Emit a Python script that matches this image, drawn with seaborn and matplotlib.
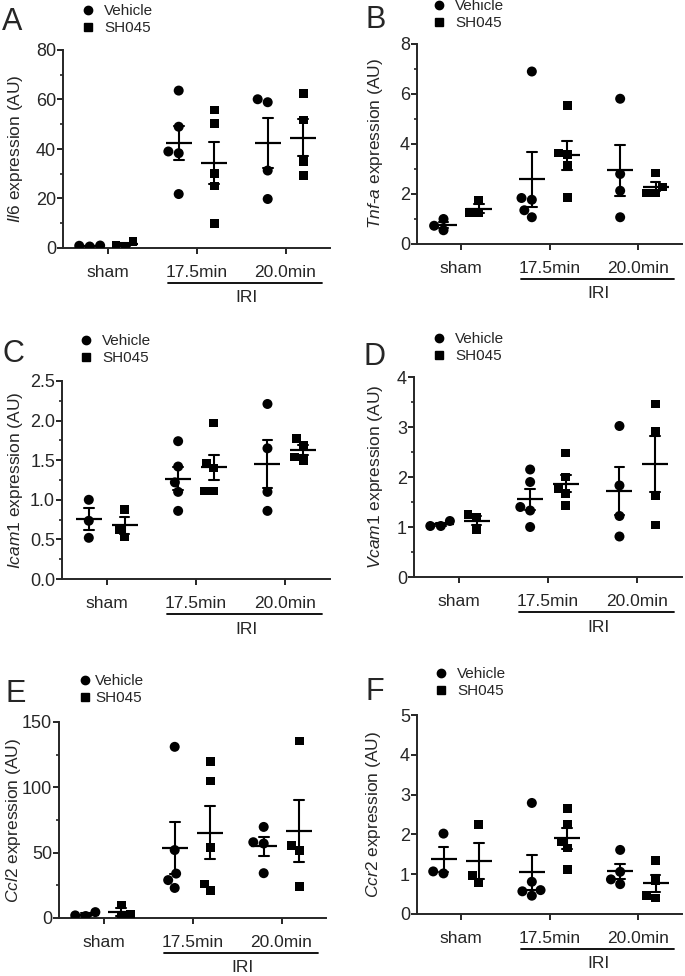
import numpy as np
import pandas as pd
import seaborn as sns
import matplotlib
matplotlib.use("Agg")
import matplotlib.pyplot as plt
from matplotlib.lines import Line2D
from matplotlib.ticker import MultipleLocator, FormatStrFormatter
import matplotlib.transforms as mtransforms

# ---------------- data ----------------
groups = ["sham", "17.5min", "20.0min"]
treatments = ["Vehicle", "SH045"]

il6_vehicle = [[0.6, 0.9, 1.0], [63.6, 49.0, 39.0, 38.3, 21.8], [60.1, 58.9, 31.3, 19.8]]
il6_sh045 = [[0.8, 2.7, 0.9], [55.8, 50.4, 30.0, 25.1, 10.0], [62.5, 51.7, 35.0, 29.3]]

tnf_vehicle = [[1.0, 0.55, 0.73], [6.9, 1.77, 1.84, 1.35, 1.07], [5.81, 2.8, 2.13, 1.07]]
tnf_sh045 = [[1.75, 1.25, 1.25], [5.53, 3.64, 3.57, 3.15, 1.85], [2.84, 2.28, 2.04, 2.04]]

icam1_vehicle = [[1.0, 0.735, 0.52], [1.74, 1.42, 1.22, 1.10, 0.86], [2.21, 1.65, 1.10, 0.86]]
icam1_sh045 = [[0.88, 0.62, 0.53], [1.97, 1.46, 1.40, 1.11, 1.11], [1.77, 1.69, 1.54, 1.50]]

vcam1_vehicle = [[1.02, 1.12, 1.02], [2.15, 1.90, 1.40, 1.33, 1.00], [3.02, 1.83, 1.22, 0.81]]
vcam1_sh045 = [[1.25, 1.19, 0.95], [2.48, 2.00, 1.77, 1.67, 1.43], [3.46, 2.91, 1.63, 1.04]]

ccl2_vehicle = [[1.5, 4.5, 2.0], [131.0, 52.0, 34.0, 29.0, 23.0], [69.7, 58.0, 57.0, 34.3]]
ccl2_sh045 = [[10.0, 1.0, 2.5], [120.0, 104.8, 54.0, 26.0, 21.0], [135.5, 55.2, 51.9, 23.9]]

ccr2_vehicle = [[2.02, 1.02, 1.07], [2.79, 0.81, 0.60, 0.46, 0.57], [1.61, 1.06, 0.87, 0.75]]
ccr2_sh045 = [[2.25, 0.80, 0.96], [2.65, 2.24, 1.83, 1.66, 1.11], [1.35, 0.85, 0.47, 0.40]]

panel_letters = ["A", "B", "C", "D", "E", "F"]
gene_names = ["Il6", "Tnf-a", "Icam1", "Vcam1", "Ccl2", "Ccr2"]
y_max = [80, 8, 2.5, 4, 150, 5]
y_major = [20, 2, 0.5, 1, 50, 1]
y_minor = [10, 1, 0.25, 0.5, 25, None]
y_fmt = ["%d", "%d", "%.1f", "%d", "%d", "%d"]
iri_label = "IRI"
legend_labels = ["Vehicle", "SH045"]

panel_data = [
    (il6_vehicle, il6_sh045),
    (tnf_vehicle, tnf_sh045),
    (icam1_vehicle, icam1_sh045),
    (vcam1_vehicle, vcam1_sh045),
    (ccl2_vehicle, ccl2_sh045),
    (ccr2_vehicle, ccr2_sh045),
]

# ---------------- style ----------------
sns.set_style("ticks")
plt.rcParams["font.family"] = ["Liberation Sans", "DejaVu Sans"]
plt.rcParams["mathtext.fontset"] = "custom"
plt.rcParams["mathtext.rm"] = "Liberation Sans"
plt.rcParams["mathtext.it"] = "Liberation Sans:italic"
plt.rcParams["axes.linewidth"] = 1.4

W, H = 685, 976
fig = plt.figure(figsize=(W / 100, H / 100), dpi=100)

# axes pixel boxes: left, right, top, bottom
boxes = [
    (63, 330, 50, 248),
    (417, 682, 44, 244),
    (62, 330, 381, 579),
    (414, 682, 377, 577),
    (59, 326, 722, 918),
    (417, 682, 715, 914),
]
letter_pos = [(2, 30), (365, 28), (3, 362), (363, 365), (5, 702), (365, 700)]
legend_pos = [(83, 4), (434, -1), (81, 334), (434, 332), (80, 674), (436, 667)]
legend_pad = [0.7, 0.7, 0.7, 0.7, 0.3, 0.7]
ylabel_x = [15, 375, 15, 375, 13, 373]

FS_YT = 13
FS_XT = 12.5
FS_LAB = 12.5
FS_LEG = 11


def ylabel_text(name):
    if "-" in name:
        a, b = name.split("-")
        return r"$\it{" + a + r"}$-$\it{" + b + r"}$ expression (AU)"
    return r"$\it{" + name + r"}$ expression (AU)"


for i in range(6):
    l, r, t, b = boxes[i]
    ax = fig.add_axes([l / W, 1 - b / H, (r - l) / W, (b - t) / H])
    veh, sh = panel_data[i]
    rows = []
    for g, vals in zip(groups, veh):
        for v in vals:
            rows.append({"group": g, "treatment": "Vehicle", "value": v})
    for g, vals in zip(groups, sh):
        for v in vals:
            rows.append({"group": g, "treatment": "SH045", "value": v})
    df = pd.DataFrame(rows)

    pal = {"Vehicle": "black", "SH045": "black"}
    sns.swarmplot(data=df[df.treatment == "Vehicle"], x="group", y="value",
                  hue="treatment", hue_order=treatments, order=groups,
                  dodge=True, palette=pal, marker="o", size=7.2,
                  linewidth=0, legend=False, ax=ax)
    sns.swarmplot(data=df[df.treatment == "SH045"], x="group", y="value",
                  hue="treatment", hue_order=treatments, order=groups,
                  dodge=True, palette=pal, marker="s", size=6.3,
                  linewidth=0, legend=False, ax=ax)
    sns.pointplot(data=df, x="group", y="value", hue="treatment",
                  hue_order=treatments, order=groups, palette=pal,
                  dodge=0.4, errorbar="se", capsize=0.11,
                  marker="_", markersize=19, markeredgewidth=1.6,
                  linestyle="none", err_kws={"linewidth": 1.5},
                  legend=False, ax=ax)

    ax.set_xlim(-0.5, 2.5)
    ax.set_ylim(0, y_max[i])
    ax.yaxis.set_major_locator(MultipleLocator(y_major[i]))
    if y_minor[i]:
        ax.yaxis.set_minor_locator(MultipleLocator(y_minor[i]))
    ax.yaxis.set_major_formatter(FormatStrFormatter(y_fmt[i]))
    ax.tick_params(axis="y", which="major", length=4, width=1.4, labelsize=FS_YT, pad=1)
    ax.tick_params(axis="y", which="minor", length=2.5, width=1.2)
    ax.tick_params(axis="x", which="major", length=4, width=1.4, labelsize=FS_XT, pad=8)
    ax.set_xlabel("")
    ax.set_ylabel(ylabel_text(gene_names[i]), fontsize=FS_LAB)
    ax.yaxis.set_label_coords((ylabel_x[i] + 10 - l) / (r - l), 0.5)
    sns.despine(ax=ax)

    # IRI bracket
    trans = mtransforms.blended_transform_factory(ax.transData, ax.transAxes)
    hpx = b - t
    ax.plot([0.68, 2.41], [-35 / hpx, -35 / hpx], color="black", lw=1.3,
            transform=trans, clip_on=False)
    ax.text(1.56, -50 / hpx, iri_label, transform=trans, ha="center",
            va="center", fontsize=FS_XT)

    # legend
    handles = [Line2D([], [], marker="o", color="black", linestyle="none", markersize=6),
               Line2D([], [], marker="s", color="black", linestyle="none", markersize=5.5)]
    lx, ly = legend_pos[i]
    ax.legend(handles, legend_labels, loc="upper left",
              bbox_to_anchor=(lx / W, 1 - ly / H), bbox_transform=fig.transFigure,
              frameon=False, handlelength=0.7, handletextpad=legend_pad[i], borderpad=0,
              borderaxespad=0, labelspacing=0.2, fontsize=FS_LEG)

    px, py = letter_pos[i]
    fig.text(px / W, 1 - py / H, panel_letters[i], fontsize=22, ha="left",
             va="baseline")

fig.savefig("out.png", dpi=100)
